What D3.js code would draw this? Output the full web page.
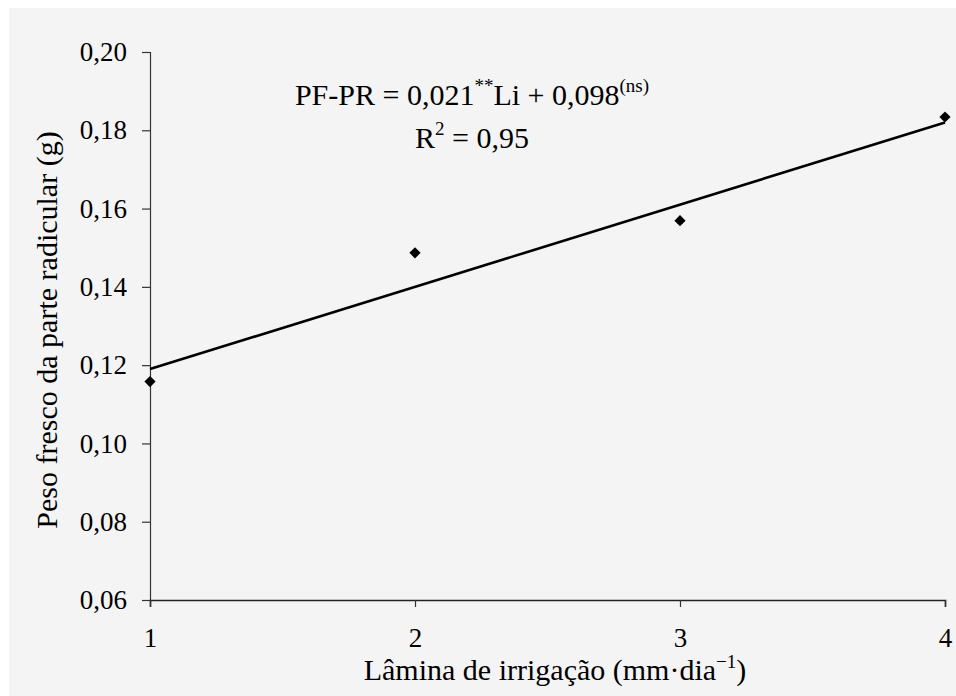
<!DOCTYPE html>
<html>
<head>
<meta charset="utf-8">
<script src="https://cdn.jsdelivr.net/npm/d3@7"></script>
<style>
  html, body { margin: 0; padding: 0; background: #fff; }
  svg { display: block; }
  text { font-family: "Liberation Serif", "Times New Roman", serif; fill: #000; }
</style>
</head>
<body>
<svg id="chart" width="956" height="696"></svg>
<script>
// ---- Data ----
const laminas = [1, 2, 3, 4];
const pesoFresco = [0.1158, 0.1487, 0.1569, 0.1834];
const yTicks = [0.06, 0.08, 0.10, 0.12, 0.14, 0.16, 0.18, 0.20];
const xTicks = [1, 2, 3, 4];
const slope = 0.021;
const intercept = 0.098;

const svg = d3.select("#chart");
const W = 956, H = 696;
const margin = { top: 52, right: 11, bottom: 96, left: 150 };

// gray panel
svg.append("rect")
  .attr("x", 9).attr("y", 8)
  .attr("width", W - 9).attr("height", H - 8)
  .attr("fill", "#f4f4f4");

const x = d3.scaleLinear().domain([1, 4]).range([margin.left, W - margin.right]);
const y = d3.scaleLinear().domain([0.06, 0.20]).range([H - margin.bottom, margin.top]);

const fmt = d => d.toFixed(2).replace(".", ",");

// y axis
const gy = svg.append("g")
  .attr("transform", `translate(${margin.left},0)`)
  .call(d3.axisLeft(y).tickValues(yTicks).tickFormat(fmt).tickSize(8).tickPadding(15));
gy.select(".domain").attr("stroke", "#333").attr("stroke-width", 1.2);
gy.selectAll(".tick line").attr("stroke", "#333").attr("stroke-width", 1.2);
gy.selectAll("text").attr("font-size", 27).attr("font-family", "Liberation Serif").attr("fill", "#000");

// x axis
const gx = svg.append("g")
  .attr("transform", `translate(0,${H - margin.bottom})`)
  .call(d3.axisBottom(x).tickValues(xTicks).tickFormat(d3.format("d")).tickSize(7).tickPadding(21));
gx.select(".domain").attr("stroke", "#222").attr("stroke-width", 1.6);
gx.selectAll(".tick line").attr("stroke", "#333").attr("stroke-width", 1.2);
gx.selectAll("text").attr("font-size", 27).attr("font-family", "Liberation Serif").attr("fill", "#000");

// regression line
const line = d3.line().x(d => x(d)).y(d => y(slope * d + intercept));
svg.append("path")
  .datum([1, 4])
  .attr("d", line)
  .attr("fill", "none")
  .attr("stroke", "#000")
  .attr("stroke-width", 2.6);

// points
svg.selectAll("path.pt")
  .data(laminas.map((l, i) => ({ l, v: pesoFresco[i] })))
  .join("path")
  .attr("class", "pt")
  .attr("d", d3.symbol(d3.symbolDiamond2, 80))
  .attr("transform", d => `translate(${x(d.l)},${y(d.v)})`)
  .attr("fill", "#000");

// axis titles
const xt = svg.append("text")
  .attr("x", 555)
  .attr("y", 680)
  .attr("text-anchor", "middle")
  .attr("font-size", 30);
xt.append("tspan").text("Lâmina de irrigação (mm·dia");
xt.append("tspan").attr("font-size", 19).attr("dy", -12).text("−1");
xt.append("tspan").attr("dy", 12).text(")");

svg.append("text")
  .attr("transform", `translate(57,330) rotate(-90)`)
  .attr("text-anchor", "middle")
  .attr("font-size", 30)
  .text("Peso fresco da parte radicular (g)");

// equation
const eq = svg.append("text")
  .attr("x", 472)
  .attr("y", 105)
  .attr("text-anchor", "middle")
  .attr("font-size", 30);
eq.append("tspan").text("PF-PR = 0,021");
eq.append("tspan").attr("font-size", 19).attr("dy", -13).text("**");
eq.append("tspan").attr("dy", 13).text("Li + 0,098");
eq.append("tspan").attr("font-size", 19).attr("dy", -13).text("(ns)");

const r2 = svg.append("text")
  .attr("x", 472)
  .attr("y", 148)
  .attr("text-anchor", "middle")
  .attr("font-size", 30);
r2.append("tspan").text("R");
r2.append("tspan").attr("font-size", 19).attr("dy", -13).text("2");
r2.append("tspan").attr("dy", 13).text(" = 0,95");
</script>
</body>
</html>
